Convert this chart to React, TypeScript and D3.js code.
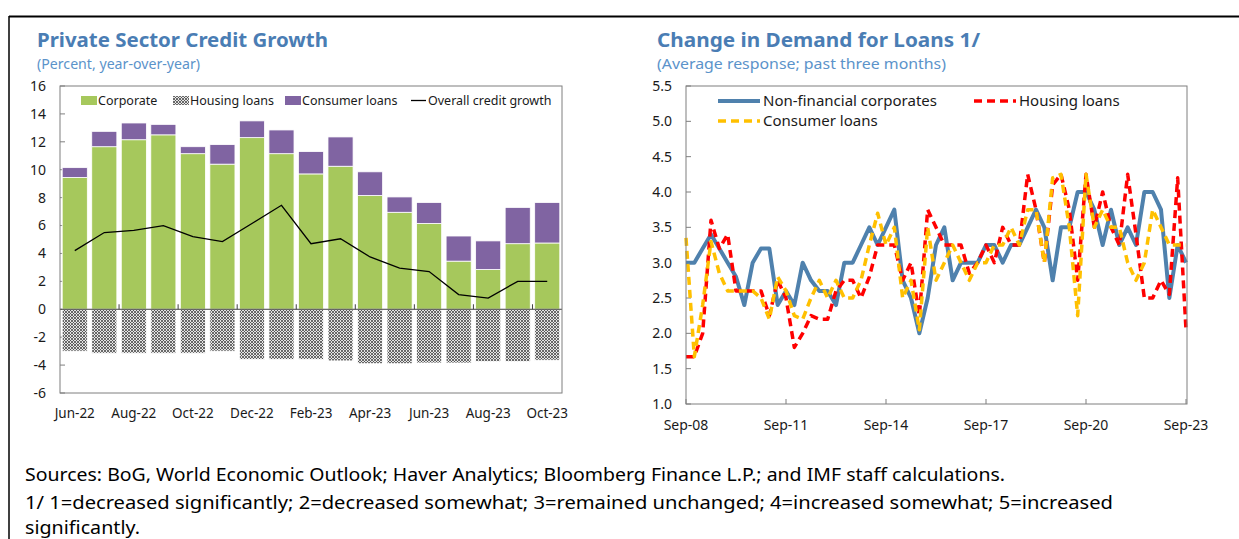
import React from 'react';
import * as d3 from 'd3';

// Left panel: monthly credit growth, percent y/y
const months = ['Jun-22', 'Jul-22', 'Aug-22', 'Sep-22', 'Oct-22', 'Nov-22', 'Dec-22', 'Jan-23', 'Feb-23',
  'Mar-23', 'Apr-23', 'May-23', 'Jun-23', 'Jul-23', 'Aug-23', 'Sep-23', 'Oct-23'];
const corporate = [9.45, 11.65, 12.15, 12.5, 11.15, 10.4, 12.3, 11.15, 9.7, 10.25, 8.15, 6.95, 6.15, 3.45, 2.85, 4.7, 4.75];
const consumerLoans = [0.7, 1.1, 1.2, 0.75, 0.5, 1.4, 1.2, 1.7, 1.6, 2.1, 1.7, 1.1, 1.5, 1.8, 2.05, 2.6, 2.9];
const housingLoans = [-3.0, -3.15, -3.15, -3.15, -3.15, -3.0, -3.6, -3.6, -3.6, -3.7, -3.9, -3.9, -3.85, -3.85, -3.75, -3.75, -3.65];
const overallGrowth = [4.2, 5.5, 5.65, 6.0, 5.2, 4.85, 6.15, 7.45, 4.7, 5.05, 3.75, 2.95, 2.7, 1.05, 0.8, 2.0, 2.0];
const leftTicks = [-6, -4, -2, 0, 2, 4, 6, 8, 10, 12, 14, 16];

// Right panel: quarterly survey, Sep-08 .. Sep-23
const quarterTicks = ['Sep-08', 'Sep-11', 'Sep-14', 'Sep-17', 'Sep-20', 'Sep-23'];
const nonFinancial = [3.0, 3.0, 3.2, 3.4, 3.2, 3.0, 2.8, 2.4, 3.0, 3.2,
  3.2, 2.4, 2.6, 2.4, 3.0, 2.75, 2.6, 2.6, 2.4, 3.0,
  3.0, 3.25, 3.5, 3.25, 3.5, 3.75, 2.75, 2.5, 2.0, 2.5,
  3.25, 3.5, 2.75, 3.0, 3.0, 3.0, 3.25, 3.25, 3.0, 3.25,
  3.25, 3.5, 3.75, 3.5, 2.75, 3.5, 3.5, 4.0, 4.0, 3.75,
  3.25, 3.75, 3.25, 3.5, 3.25, 4.0, 4.0, 3.75, 2.5, 3.25, 3.0];
const housingDemand = [1.67, 1.67, 2.0, 3.6, 3.2, 3.4, 2.6, 2.6, 2.6, 2.6,
  2.25, 2.75, 2.5, 1.8, 2.0, 2.25, 2.2, 2.2, 2.6, 2.75,
  2.75, 2.5, 2.8, 3.25, 3.25, 3.25, 2.75, 3.0, 2.25, 3.75,
  3.5, 3.25, 3.25, 3.25, 2.85, 3.0, 3.25, 3.0, 3.5, 3.25,
  3.25, 4.25, 3.75, 3.0, 4.1, 4.25, 3.75, 2.75, 4.25, 3.5,
  4.0, 3.5, 3.25, 4.25, 3.4, 2.5, 2.5, 2.75, 2.55, 4.2, 2.05];
const consumerDemand = [3.35, 1.67, 2.4, 3.3, 2.85, 2.6, 2.6, 2.6, 2.6, 2.5,
  2.2, 2.8, 2.6, 2.25, 2.2, 2.5, 2.75, 2.5, 2.75, 2.5,
  2.5, 2.75, 3.25, 3.7, 3.25, 3.5, 2.5, 2.75, 2.05, 3.5,
  2.75, 3.0, 3.25, 3.0, 2.75, 3.0, 3.0, 3.25, 3.25, 3.5,
  3.25, 3.75, 3.75, 3.0, 4.2, 4.25, 3.5, 2.25, 4.25, 3.5,
  3.75, 3.5, 3.5, 3.0, 2.75, 3.0, 3.75, 3.5, 3.25, 3.25, 3.25];
const rightTicks = [1.0, 1.5, 2.0, 2.5, 3.0, 3.5, 4.0, 4.5, 5.0, 5.5];

const FONT = '"Noto Sans", "Open Sans", sans-serif';
const TITLE = '#4a7db4';
const SUBTITLE = '#5b93ca';
const GREEN = '#a6c85c';
const PURPLE = '#8064a2';
const BLUE = '#4f81ad';
const RED = '#ff0000';
const GOLD = '#ffc000';
const AXIS = '#7f7f7f';

export default function App() {
  const ref = React.useRef<SVGSVGElement>(null);

  React.useEffect(() => {
    if (!ref.current) return;
    const svg = d3.select(ref.current);
    svg.selectAll('*').remove();
    svg.style('font-family', FONT);

    const defs = svg.append('defs');
    const pat = defs.append('pattern')
      .attr('id', 'hatch')
      .attr('patternUnits', 'userSpaceOnUse')
      .attr('width', 3)
      .attr('height', 3);
    pat.append('rect').attr('width', 3).attr('height', 3).attr('fill', '#e4e4e4');
    pat.append('path')
      .attr('d', 'M0,0 L3,3 M3,0 L0,3')
      .attr('stroke', '#4a4a4a')
      .attr('stroke-width', 0.8);

    // frame around the figure
    svg.append('line').attr('x1', 9).attr('x2', 1239).attr('y1', 16.5).attr('y2', 16.5)
      .attr('stroke', '#000').attr('stroke-width', 2);
    svg.append('line').attr('x1', 9).attr('x2', 9).attr('y1', 16).attr('y2', 539)
      .attr('stroke', '#000').attr('stroke-width', 1.5);

    // titles
    const titles = [
      { x: 37, t: 'Private Sector Credit Growth', tw: 291, s: '(Percent, year-over-year)', sw: 163 },
      { x: 657, t: 'Change in Demand for Loans 1/', tw: 323, s: '(Average response; past three months)', sw: 289 },
    ];
    titles.forEach(d => {
      svg.append('text').attr('x', d.x).attr('y', 47).attr('fill', TITLE)
        .attr('font-size', 20).attr('font-weight', 700)
        .attr('textLength', d.tw).attr('lengthAdjust', 'spacingAndGlyphs').text(d.t);
      svg.append('text').attr('x', d.x).attr('y', 69).attr('fill', SUBTITLE)
        .attr('font-size', 14.5)
        .attr('textLength', d.sw).attr('lengthAdjust', 'spacingAndGlyphs').text(d.s);
    });

    // ---------- left chart ----------
    const L = { left: 60, right: 562, top: 86, bottom: 393 };
    const x = d3.scaleBand<string>().domain(months).range([L.left, L.right])
      .paddingInner(0.15).paddingOuter(0.075);
    const y = d3.scaleLinear().domain([-6, 16]).range([L.bottom, L.top]);
    const gl = svg.append('g');

    gl.selectAll('text.ytick').data(leftTicks).join('text')
      .attr('class', 'ytick')
      .attr('x', L.left - 14).attr('y', d => y(d)).attr('dy', '0.35em')
      .attr('text-anchor', 'end').attr('font-size', 14).attr('fill', '#1a1a1a')
      .text(d => d);
    gl.selectAll('line.ytick').data(leftTicks).join('line')
      .attr('class', 'ytick')
      .attr('x1', L.left).attr('x2', L.left + 5).attr('y1', d => y(d)).attr('y2', d => y(d))
      .attr('stroke', AXIS);

    const bars = gl.append('g');
    bars.selectAll('rect.corp').data(months).join('rect')
      .attr('class', 'corp')
      .attr('x', d => x(d)!).attr('width', x.bandwidth())
      .attr('y', (d, i) => y(corporate[i])).attr('height', (d, i) => y(0) - y(corporate[i]))
      .attr('fill', GREEN).attr('stroke', '#fff').attr('stroke-width', 0.8);
    bars.selectAll('rect.cons').data(months).join('rect')
      .attr('class', 'cons')
      .attr('x', d => x(d)!).attr('width', x.bandwidth())
      .attr('y', (d, i) => y(corporate[i] + consumerLoans[i]))
      .attr('height', (d, i) => y(corporate[i]) - y(corporate[i] + consumerLoans[i]))
      .attr('fill', PURPLE).attr('stroke', '#fff').attr('stroke-width', 0.8);
    bars.selectAll('rect.hous').data(months).join('rect')
      .attr('class', 'hous')
      .attr('x', d => x(d)!).attr('width', x.bandwidth())
      .attr('y', y(0)).attr('height', (d, i) => y(housingLoans[i]) - y(0))
      .attr('fill', 'url(#hatch)').attr('stroke', '#fff').attr('stroke-width', 0.8);

    // zero axis with category ticks every two months
    gl.append('line').attr('x1', L.left).attr('x2', L.right).attr('y1', y(0)).attr('y2', y(0))
      .attr('stroke', '#404040').attr('stroke-width', 1);
    const gap = (x.step() - x.bandwidth()) / 2;
    const bounds = months.map((m, i) => i).filter(i => i > 0 && i % 2 === 0);
    gl.selectAll('line.xtick').data(bounds).join('line')
      .attr('class', 'xtick')
      .attr('x1', i => x(months[i])! - gap).attr('x2', i => x(months[i])! - gap)
      .attr('y1', y(0)).attr('y2', y(0) - 5)
      .attr('stroke', '#404040');
    gl.selectAll('text.xlab').data(months.filter((m, i) => i % 2 === 0)).join('text')
      .attr('class', 'xlab')
      .attr('x', d => x(d)! + x.bandwidth() / 2).attr('y', 418)
      .attr('text-anchor', 'middle').attr('font-size', 13.5).attr('fill', '#1a1a1a')
      .text(d => d);

    const line = d3.line<number>()
      .x((d, i) => x(months[i])! + x.bandwidth() / 2)
      .y(d => y(d));
    gl.append('path').datum(overallGrowth).attr('d', line)
      .attr('fill', 'none').attr('stroke', '#000').attr('stroke-width', 1.3);

    gl.append('rect').attr('x', L.left).attr('y', L.top)
      .attr('width', L.right - L.left).attr('height', L.bottom - L.top)
      .attr('fill', 'none').attr('stroke', AXIS).attr('stroke-width', 1);

    // left legend
    const leg = gl.append('g').attr('font-size', 12.5).attr('fill', '#1a1a1a');
    const legItems = [
      { x: 81, kind: 'rect', fill: GREEN, label: 'Corporate' },
      { x: 173, kind: 'rect', fill: 'url(#hatch)', label: 'Housing loans' },
      { x: 285, kind: 'rect', fill: PURPLE, label: 'Consumer loans' },
      { x: 411, kind: 'line', fill: '#000', label: 'Overall credit growth' },
    ];
    legItems.forEach(d => {
      if (d.kind === 'rect') {
        leg.append('rect').attr('x', d.x).attr('y', 96).attr('width', 16).attr('height', 9).attr('fill', d.fill);
      } else {
        leg.append('line').attr('x1', d.x).attr('x2', d.x + 15).attr('y1', 100.5).attr('y2', 100.5)
          .attr('stroke', d.fill).attr('stroke-width', 1.3);
      }
      leg.append('text').attr('x', d.x + 17).attr('y', 100.5).attr('dy', '0.35em').text(d.label);
    });

    // ---------- right chart ----------
    const R = { left: 686, right: 1187, top: 86, bottom: 404 };
    const xq = d3.scaleLinear().domain([0, 60]).range([R.left, R.right - 1]);
    const yq = d3.scaleLinear().domain([1, 5.5]).range([R.bottom, R.top]);
    const gr = svg.append('g');

    gr.selectAll('text.ytick').data(rightTicks).join('text')
      .attr('class', 'ytick')
      .attr('x', R.left - 14).attr('y', d => yq(d)).attr('dy', '0.35em')
      .attr('text-anchor', 'end').attr('font-size', 14).attr('fill', '#1a1a1a')
      .text(d => d.toFixed(1));
    gr.selectAll('line.ytick').data(rightTicks).join('line')
      .attr('class', 'ytick')
      .attr('x1', R.left).attr('x2', R.left + 5).attr('y1', d => yq(d)).attr('y2', d => yq(d))
      .attr('stroke', AXIS);
    gr.selectAll('line.xtick').data(quarterTicks).join('line')
      .attr('class', 'xtick')
      .attr('x1', (d, i) => xq(i * 12)).attr('x2', (d, i) => xq(i * 12))
      .attr('y1', R.bottom).attr('y2', R.bottom - 5)
      .attr('stroke', AXIS);
    gr.selectAll('text.xlab').data(quarterTicks).join('text')
      .attr('class', 'xlab')
      .attr('x', (d, i) => xq(i * 12)).attr('y', 430)
      .attr('text-anchor', 'middle').attr('font-size', 14).attr('fill', '#1a1a1a')
      .text(d => d);

    const qline = d3.line<number>().x((d, i) => xq(i)).y(d => yq(d));
    const series = [
      { data: nonFinancial, color: BLUE, width: 4, dash: null as string | null, label: 'Non-financial corporates', lx: 718, ly: 101 },
      { data: housingDemand, color: RED, width: 3.5, dash: '8,5', label: 'Housing loans', lx: 974, ly: 101 },
      { data: consumerDemand, color: GOLD, width: 3.5, dash: '8,5', label: 'Consumer loans', lx: 718, ly: 121 },
    ];
    series.forEach(s => {
      gr.append('path').datum(s.data).attr('d', qline)
        .attr('fill', 'none').attr('stroke', s.color).attr('stroke-width', s.width)
        .attr('stroke-linejoin', 'round')
        .attr('stroke-dasharray', s.dash);
    });

    gr.append('rect').attr('x', R.left).attr('y', R.top)
      .attr('width', R.right - R.left).attr('height', R.bottom - R.top)
      .attr('fill', 'none').attr('stroke', AXIS).attr('stroke-width', 1);

    series.forEach(s => {
      gr.append('line').attr('x1', s.lx).attr('x2', s.lx + 42).attr('y1', s.ly).attr('y2', s.ly)
        .attr('stroke', s.color).attr('stroke-width', s.width).attr('stroke-dasharray', s.dash);
      gr.append('text').attr('x', s.lx + 45).attr('y', s.ly).attr('dy', '0.35em')
        .attr('font-size', 15).attr('fill', '#1a1a1a').text(s.label);
    });

    // notes
    const notes = [
      { t: 'Sources: BoG, World Economic Outlook; Haver Analytics; Bloomberg Finance L.P.; and IMF staff calculations.', w: 980 },
      { t: '1/ 1=decreased significantly; 2=decreased somewhat; 3=remained unchanged; 4=increased somewhat; 5=increased', w: 1088 },
      { t: 'significantly.', w: 115 },
    ];
    svg.selectAll('text.note').data(notes).join('text')
      .attr('class', 'note')
      .attr('x', 25).attr('y', (d, i) => [481, 509, 534][i])
      .attr('font-size', 18).attr('fill', '#000')
      .attr('textLength', d => d.w).attr('lengthAdjust', 'spacingAndGlyphs')
      .text(d => d.t);
  }, []);

  return (
    <div style={{ position: 'fixed', left: 0, top: 0, width: 1239, height: 539, background: '#fff' }}>
      <svg ref={ref} width={1239} height={539} />
    </div>
  );
}
